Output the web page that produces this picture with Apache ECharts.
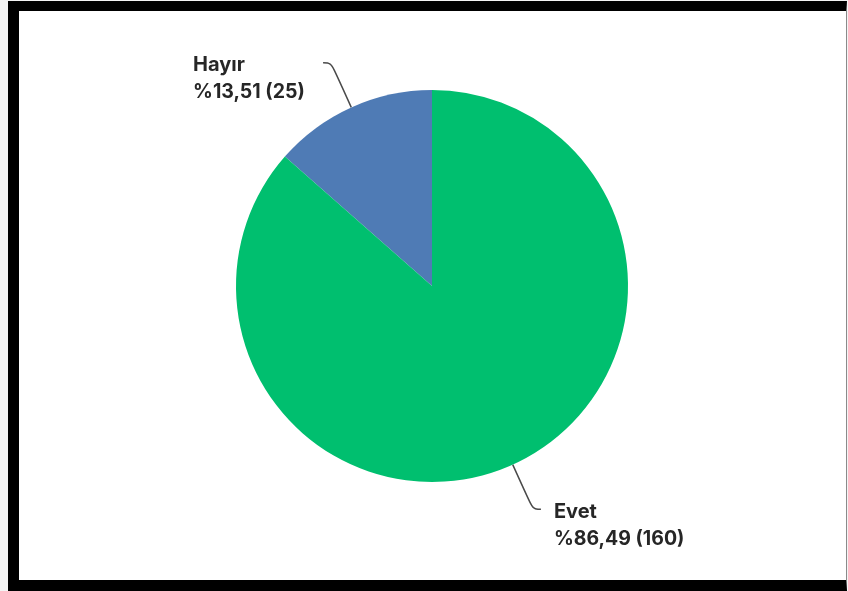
<!DOCTYPE html>
<html>
<head>
<meta charset="utf-8">
<title>Hayır / Evet</title>
<script src="https://cdn.jsdelivr.net/npm/echarts@6/dist/echarts.min.js"></script>
<style>
  html, body { margin: 0; padding: 0; background: #ffffff; }
  #wrap { position: relative; width: 848px; height: 591px; overflow: hidden; background: #f4f4f4; }
  #frame {
    position: absolute; left: 8px; top: 1px; width: 827px; height: 569px;
    background: #ffffff;
    border-left: 11px solid #000; border-top: 10px solid #000;
    border-bottom: 11px solid #000; border-right: 1px solid #8a8a8a;
  }
  #chart { position: absolute; left: 0; top: 0; width: 848px; height: 591px; }
</style>
</head>
<body>
<div id="wrap">
  <div id="frame"></div>
  <div id="chart"></div>
</div>
<script>
  // Answer categories, counts and percentage shares
  const categories = ['Hayır', 'Evet'];
  const counts = [25, 160];
  const percents = ['13,51', '86,49'];

  // Per-slice appearance
  const colors = ['#4f7bb5', '#00bf6f'];
  const labelWidths = [112, 131];
  const labelGaps = [18, 13];

  const data = categories.map((name, i) => ({
    name: name,
    value: counts[i],
    itemStyle: { color: colors[i] },
    label: {
      width: labelWidths[i],
      distanceToLabelLine: labelGaps[i],
      formatter: '{t|' + name + '}\n{v|%' + percents[i] + ' (' + counts[i] + ')}'
    }
  }));

  const textBase = {
    align: 'left',
    color: '#262626',
    fontFamily: 'Inter',
    fontWeight: 'bold',
    lineHeight: 27
  };

  const chart = echarts.init(document.getElementById('chart'), null, { renderer: 'canvas' });
  chart.setOption({
    backgroundColor: 'transparent',
    animation: false,
    series: [{
      type: 'pie',
      center: [432, 286],
      radius: 196,
      startAngle: 90,
      clockwise: false,
      avoidLabelOverlap: false,
      data: data,
      itemStyle: { borderWidth: 0 },
      label: {
        show: true,
        position: 'outside',
        overflow: 'none',
        padding: [32, 0, 0, 0],
        color: '#262626',
        fontFamily: 'Inter',
        fontWeight: 'bold',
        fontSize: 20,
        lineHeight: 27,
        rich: {
          t: Object.assign({ fontSize: 20 }, textBase),
          v: Object.assign({ fontSize: 19.5 }, textBase)
        }
      },
      labelLine: {
        show: true,
        length: 49,
        length2: 8,
        smooth: 0.4,
        lineStyle: { color: '#4a4a4a', width: 1.5 }
      },
      emphasis: { disabled: true }
    }]
  });
</script>
</body>
</html>
